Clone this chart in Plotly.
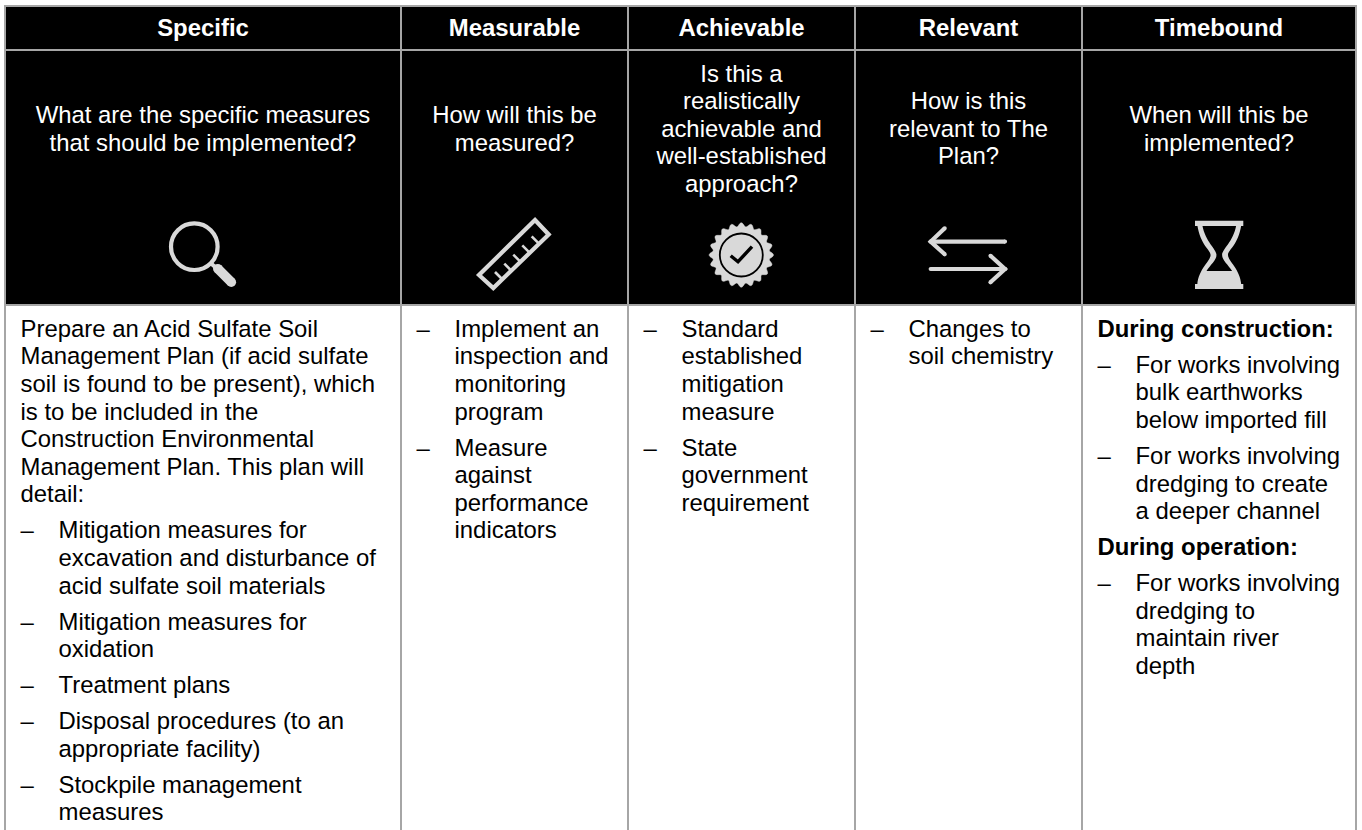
import math
import plotly.graph_objects as go

# ---- content ----
HEADERS = ["Specific", "Measurable", "Achievable", "Relevant", "Timebound"]
QUESTIONS = [
    ["What are the specific measures", "that should be implemented?"],
    ["How will this be", "measured?"],
    ["Is this a", "realistically", "achievable and", "well-established", "approach?"],
    ["How is this", "relevant to The", "Plan?"],
    ["When will this be", "implemented?"],
]
# kinds: p = plain paragraph start, q = plain continuation, h = bold heading,
#        b = bullet start, c = bullet continuation
SPECIFIC_BODY = [
    ("p", "Prepare an Acid Sulfate Soil"), ("q", "Management Plan (if acid sulfate"),
    ("q", "soil is found to be present), which"), ("q", "is to be included in the"),
    ("q", "Construction Environmental"), ("q", "Management Plan. This plan will"), ("q", "detail:"),
    ("b", "Mitigation measures for"), ("c", "excavation and disturbance of"), ("c", "acid sulfate soil materials"),
    ("b", "Mitigation measures for"), ("c", "oxidation"),
    ("b", "Treatment plans"),
    ("b", "Disposal procedures (to an"), ("c", "appropriate facility)"),
    ("b", "Stockpile management"), ("c", "measures"),
]
MEASURABLE_BODY = [
    ("b", "Implement an"), ("c", "inspection and"), ("c", "monitoring"), ("c", "program"),
    ("b", "Measure"), ("c", "against"), ("c", "performance"), ("c", "indicators"),
]
ACHIEVABLE_BODY = [
    ("b", "Standard"), ("c", "established"), ("c", "mitigation"), ("c", "measure"),
    ("b", "State"), ("c", "government"), ("c", "requirement"),
]
RELEVANT_BODY = [("b", "Changes to"), ("c", "soil chemistry")]
TIMEBOUND_BODY = [
    ("h", "During construction:"),
    ("b", "For works involving"), ("c", "bulk earthworks"), ("c", "below imported fill"),
    ("b", "For works involving"), ("c", "dredging to create"), ("c", "a deeper channel"),
    ("h", "During operation:"),
    ("b", "For works involving"), ("c", "dredging to"), ("c", "maintain river"), ("c", "depth"),
]
BODIES = [SPECIFIC_BODY, MEASURABLE_BODY, ACHIEVABLE_BODY, RELEVANT_BODY, TIMEBOUND_BODY]

# ---- layout constants (page pixels) ----
W, H = 1362, 830
COL_EDGES = [5, 401, 628, 855, 1082, 1356]
Y_TOP, Y_HEAD, Y_BLACK = 6, 50, 305
GRID = "#a6a6a6"
ICON = "#d9d9d9"
FONT = "Liberation Sans, Arial, sans-serif"
SIZE = 23.9
STEP = 27.6
PARA = 36.0
FIRST_BASE = 337.0
HEAD_BASE = 35.8
BASE_SHIFT = 6.2  # baseline -> text-middle distance
DASH_DX, TEXT_DX, PLAIN_DX = 15.5, 53.5, 15.5

centers = [(COL_EDGES[i] + COL_EDGES[i + 1]) / 2 for i in range(5)]
fig = go.Figure()


def add_text(xs, ys, texts, color, pos):
    fig.add_trace(go.Scatter(x=xs, y=[y - BASE_SHIFT for y in ys], text=texts, mode="text",
                             textposition=pos, cliponaxis=False, hoverinfo="skip", showlegend=False,
                             textfont=dict(family=FONT, size=SIZE, color=color)))


# ---- cell backgrounds and rules ----
shapes = [dict(type="rect", x0=COL_EDGES[0], x1=COL_EDGES[-1], y0=Y_TOP, y1=Y_BLACK,
               fillcolor="#000000", line_width=0, layer="below")]
for x in COL_EDGES:
    shapes.append(dict(type="line", x0=x, x1=x, y0=Y_TOP - 1, y1=H + 2, line=dict(color=GRID, width=2)))
for y in (Y_TOP, Y_HEAD, Y_BLACK):
    shapes.append(dict(type="line", x0=COL_EDGES[0] - 1, x1=COL_EDGES[-1] + 1, y0=y, y1=y,
                       line=dict(color=GRID, width=2)))

# ---- header text ----
add_text(centers, [HEAD_BASE] * 5, [f"<b>{h}</b>" for h in HEADERS], "#ffffff", "middle center")
qx, qy, qt = [], [], []
for c, lines in zip(centers, QUESTIONS):
    y0 = 137 - (len(lines) - 1) * STEP / 2
    for i, t in enumerate(lines):
        qx.append(c)
        qy.append(y0 + i * STEP)
        qt.append(t)
add_text(qx, qy, qt, "#ffffff", "middle center")

# ---- body text ----
bx, by, bt, dx, dy = [], [], [], [], []
for col, body in enumerate(BODIES):
    y = FIRST_BASE
    left = COL_EDGES[col]
    for i, (kind, text) in enumerate(body):
        if i:
            y += STEP if kind in "qc" else PARA
        if kind == "b":
            dx.append(left + DASH_DX)
            dy.append(y)
        bx.append(left + (TEXT_DX if kind in "bc" else PLAIN_DX))
        by.append(y)
        bt.append(f"<b>{text}</b>" if kind == "h" else text)
add_text(bx, by, bt, "#000000", "middle right")
add_text(dx, dy, ["–"] * len(dx), "#000000", "middle right")


# ---- icons (outlines relative to a centre point) ----
def svg(points, cx, cy, close=False):
    s = "M " + " L ".join(f"{cx + px:.2f},{cy + py:.2f}" for px, py in points)
    return s + (" Z" if close else "")


def dot(px, py, cx, cy, r, color=ICON):
    shapes.append(dict(type="circle", x0=cx + px - r, x1=cx + px + r, y0=cy + py - r, y1=cy + py + r,
                       fillcolor=color, line_width=0))


def stroke(points, cx, cy, width, color=ICON, close=False, rounded=False):
    shapes.append(dict(type="path", path=svg(points, cx, cy, close), line=dict(color=color, width=width),
                       fillcolor="rgba(0,0,0,0)"))
    if rounded:
        for px, py in points:
            dot(px, py, cx, cy, width / 2, color)


# magnifier
MAG = (194.3, 246.7)
shapes.append(dict(type="circle", x0=MAG[0] - 23.3, x1=MAG[0] + 23.3, y0=MAG[1] - 23.3, y1=MAG[1] + 23.3,
                   line=dict(color=ICON, width=4.2)))
stroke([(16.5, 16.5), (24, 23)], *MAG, 4)
stroke([(23.5, 22), (37, 35.5)], *MAG, 9.6, rounded=True)

# ruler
RUL = (514, 254)
stroke([(21, -34), (34.7, -19.5), (-20.7, 34), (-35, 21)], *RUL, 4.2, close=True)
RULER_TICKS = [(-19, 18), (-9.7, 9.7), (-0.7, 0.7), (8.3, -8.7), (17.7, -17.7)]
for tx, ty in RULER_TICKS:
    stroke([(tx, ty), (tx + 7, ty + 7)], *RUL, 2.6)

# badge
BAD = (741.3, 255)
TEETH = 20
pts = []
for i in range(240):
    a = 2 * math.pi * i / 240
    r = 30.3 + 1.9 * math.cos(TEETH * a)
    pts.append((r * math.sin(a), -r * math.cos(a)))
shapes.append(dict(type="path", path=svg(pts, *BAD, close=True), fillcolor=ICON, line=dict(color=ICON, width=0.5)))
shapes.append(dict(type="circle", x0=BAD[0] - 21.5, x1=BAD[0] + 21.5, y0=BAD[1] - 21.5, y1=BAD[1] + 21.5,
                   line=dict(color="#000000", width=1.8)))
stroke([(-10.6, 0.7), (-3.3, 6.7), (10.7, -8.3)], *BAD, 3.4, color="#000000")

# arrows
ARR = (968, 255.3)
stroke([(37, -13.7), (-37.3, -13.7)], *ARR, 4.2, rounded=True)
stroke([(-23.3, -27), (-37.3, -13.7), (-23.3, -1)], *ARR, 4.2, rounded=True)
stroke([(-37.3, 13.7), (37, 13.7)], *ARR, 4.2, rounded=True)
stroke([(22.5, 0.5), (37, 13.7), (22.5, 27)], *ARR, 4.2, rounded=True)


# hourglass
def curve(cx, cy, d, fill):
    out = []
    for tok in d.split():
        if "," in tok:
            a, b = tok.split(",")
            out.append(f"{cx + float(a):.2f},{cy + float(b):.2f}")
        else:
            out.append(tok)
    shapes.append(dict(type="path", path=" ".join(out), fillcolor=fill, line_width=0))


HG = (1219.3, 255)
curve(*HG, "M -22,-30 C -19,-10 -8.7,-5 -8.7,0 C -8.7,6 -21,14 -22,30 L 22,30 C 21,14 8.7,6 8.7,0 "
      "C 8.7,-5 19,-10 22,-30 Z", ICON)
curve(*HG, "M -17,-30 C -14,-13 -2.8,-6 -2.8,0 C -2.8,1 2.8,1 2.8,0 C 2.8,-6 14,-13 17,-30 Z", "#000000")
curve(*HG, "M -2.8,0 C -2.8,5 -9,10 -12.8,16 L 12.8,16 C 9,10 2.8,5 2.8,0 Z", "#000000")
shapes.append(dict(type="rect", x0=HG[0] - 24.3, x1=HG[0] + 24, y0=HG[1] - 34.3, y1=HG[1] - 29,
                   fillcolor=ICON, line_width=0))
shapes.append(dict(type="rect", x0=HG[0] - 24.3, x1=HG[0] + 24, y0=HG[1] + 29, y1=HG[1] + 34,
                   fillcolor=ICON, line_width=0))

fig.update_layout(
    width=W, height=H, margin=dict(l=0, r=0, t=0, b=0), paper_bgcolor="#ffffff", plot_bgcolor="#ffffff",
    xaxis=dict(range=[0, W], visible=False, fixedrange=True),
    yaxis=dict(range=[H, 0], visible=False, fixedrange=True),
    shapes=shapes, showlegend=False,
)
fig.write_html("out.html", config={"displayModeBar": False},
               post_script="document.body.style.margin='0';document.body.style.overflow='hidden';")
